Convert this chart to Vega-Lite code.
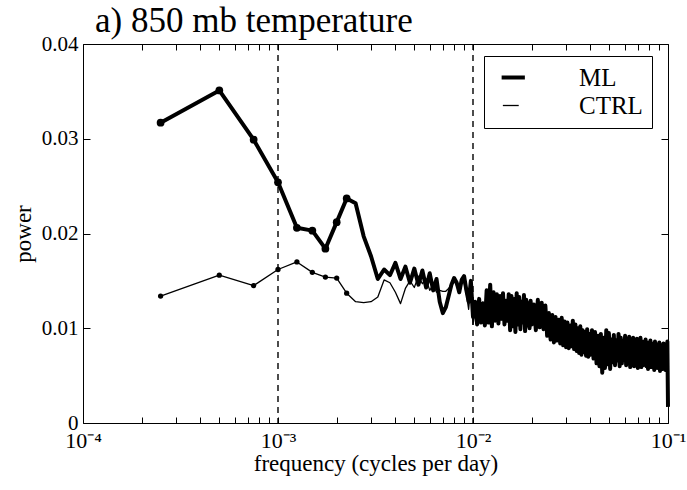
{
  "$schema": "https://vega.github.io/schema/vega-lite/v6.json",
  "width": 585,
  "height": 379,
  "autosize": {"type": "none"},
  "padding": {"left": 83, "top": 44, "right": 19, "bottom": 67},
  "background": "white",
  "config": {
    "font": "Liberation Serif",
    "view": {"stroke": "black", "strokeWidth": 1},
    "title": {"font": "Liberation Serif"},
    "legend": {"labelFont": "Liberation Serif"},
    "style": {
      "guide-label": {"font": "Liberation Serif"},
      "guide-title": {"font": "Liberation Serif"},
      "group-title": {"font": "Liberation Serif"}
    },
    "axis": {
      "grid": false,
      "domain": false,
      "tickColor": "black",
      "tickWidth": 1,
      "labelColor": "black",
      "labelFont": "Liberation Serif",
      "labelFontSize": 21,
      "titleFont": "Liberation Serif",
      "titleFontSize": 23,
      "titleFontWeight": "normal",
      "titleColor": "black",
      "labelOverlap": false,
      "labelBound": false,
      "labelFlush": false
    }
  },
  "title": {
    "text": "a) 850 mb temperature",
    "anchor": "start",
    "frame": "group",
    "fontSize": 35,
    "fontWeight": "normal",
    "font": "Liberation Serif",
    "color": "black",
    "dx": 12,
    "offset": -6
  },
  "data": {
    "values": [
      {"f": 0.00025, "ML": 0.0317, "CTRL": 0.0134},
      {"f": 0.0005, "ML": 0.0351, "CTRL": 0.0156},
      {"f": 0.00075, "ML": 0.0299, "CTRL": 0.0145},
      {"f": 0.001, "ML": 0.0254, "CTRL": 0.0162},
      {"f": 0.00125, "ML": 0.0206, "CTRL": 0.0170},
      {"f": 0.0015, "ML": 0.0203, "CTRL": 0.0159},
      {"f": 0.00175, "ML": 0.0184, "CTRL": 0.0154},
      {"f": 0.002, "ML": 0.0212, "CTRL": 0.0153},
      {"f": 0.00225, "ML": 0.0237, "CTRL": 0.0137},
      {"f": 0.0025, "ML": 0.0232, "CTRL": 0.0128},
      {"f": 0.00275, "ML": 0.0197, "CTRL": 0.0127},
      {"f": 0.003, "ML": 0.0176, "CTRL": 0.0128},
      {"f": 0.00325, "ML": 0.0152, "CTRL": 0.0133},
      {"f": 0.0035, "ML": 0.0162, "CTRL": 0.0151},
      {"f": 0.00375, "ML": 0.0156, "CTRL": 0.0148},
      {"f": 0.004, "ML": 0.0169, "CTRL": 0.0138},
      {"f": 0.00425, "ML": 0.0152, "CTRL": 0.0126},
      {"f": 0.0045, "ML": 0.0165, "CTRL": 0.0142},
      {"f": 0.00475, "ML": 0.0148, "CTRL": 0.0150},
      {"f": 0.005, "ML": 0.0163, "CTRL": 0.0143},
      {"f": 0.00525, "ML": 0.0146, "CTRL": 0.0155},
      {"f": 0.0055, "ML": 0.0161, "CTRL": 0.0147},
      {"f": 0.00575, "ML": 0.0143, "CTRL": 0.0152},
      {"f": 0.006, "ML": 0.0158, "CTRL": 0.0140},
      {"f": 0.00625, "ML": 0.0140, "CTRL": 0.0146},
      {"f": 0.0065, "ML": 0.0152, "CTRL": 0.0138},
      {"f": 0.00675, "ML": 0.0128, "CTRL": 0.0140},
      {"f": 0.007, "ML": 0.0116, "CTRL": 0.0139},
      {"f": 0.00725, "ML": 0.0122, "CTRL": 0.0139},
      {"f": 0.0075, "ML": 0.0134, "CTRL": 0.0142},
      {"f": 0.00775, "ML": 0.0146, "CTRL": 0.0147},
      {"f": 0.008, "ML": 0.0153, "CTRL": 0.0150},
      {"f": 0.00825, "ML": 0.0148, "CTRL": 0.0145},
      {"f": 0.0085, "ML": 0.0138, "CTRL": 0.0140},
      {"f": 0.00875, "ML": 0.0151, "CTRL": 0.0152},
      {"f": 0.009, "ML": 0.0155, "CTRL": 0.0148},
      {"f": 0.00925, "ML": 0.0140, "CTRL": 0.0136},
      {"f": 0.0095, "ML": 0.0128, "CTRL": 0.0120},
      {"f": 0.00975, "ML": 0.0150, "CTRL": 0.0145},
      {"f": 0.01, "ML": 0.0112, "CTRL": 0.0104},
      {"f": 0.01025, "ML": 0.0128, "CTRL": 0.0118},
      {"f": 0.0105, "ML": 0.0104, "CTRL": 0.0110},
      {"f": 0.01075, "ML": 0.0131, "CTRL": 0.0124},
      {"f": 0.011, "ML": 0.0106, "CTRL": 0.0114},
      {"f": 0.01125, "ML": 0.0126, "CTRL": 0.0128},
      {"f": 0.0115, "ML": 0.0103, "CTRL": 0.0108},
      {"f": 0.01175, "ML": 0.0140, "CTRL": 0.0126},
      {"f": 0.012, "ML": 0.0106, "CTRL": 0.0112},
      {"f": 0.01225, "ML": 0.0146, "CTRL": 0.0132},
      {"f": 0.0125, "ML": 0.0102, "CTRL": 0.0110},
      {"f": 0.01275, "ML": 0.0138, "CTRL": 0.0129},
      {"f": 0.013, "ML": 0.0108, "CTRL": 0.0115},
      {"f": 0.01325, "ML": 0.0136, "CTRL": 0.0127},
      {"f": 0.0135, "ML": 0.0105, "CTRL": 0.0112},
      {"f": 0.01375, "ML": 0.0134, "CTRL": 0.0130},
      {"f": 0.014, "ML": 0.0110, "CTRL": 0.0109},
      {"f": 0.01425, "ML": 0.0137, "CTRL": 0.0126},
      {"f": 0.0145, "ML": 0.0104, "CTRL": 0.0114},
      {"f": 0.01475, "ML": 0.0129, "CTRL": 0.0123},
      {"f": 0.015, "ML": 0.0108, "CTRL": 0.0110},
      {"f": 0.01525, "ML": 0.0136, "CTRL": 0.0125},
      {"f": 0.0155, "ML": 0.0098, "CTRL": 0.0108},
      {"f": 0.01575, "ML": 0.0134, "CTRL": 0.0122},
      {"f": 0.016, "ML": 0.0102, "CTRL": 0.0106},
      {"f": 0.01625, "ML": 0.0131, "CTRL": 0.0124},
      {"f": 0.0165, "ML": 0.0096, "CTRL": 0.0110},
      {"f": 0.01675, "ML": 0.0137, "CTRL": 0.0120},
      {"f": 0.017, "ML": 0.0104, "CTRL": 0.0105},
      {"f": 0.01725, "ML": 0.0133, "CTRL": 0.0126},
      {"f": 0.0175, "ML": 0.0099, "CTRL": 0.0108},
      {"f": 0.01775, "ML": 0.0128, "CTRL": 0.0119},
      {"f": 0.018, "ML": 0.0106, "CTRL": 0.0112},
      {"f": 0.01825, "ML": 0.0135, "CTRL": 0.0123},
      {"f": 0.0185, "ML": 0.0097, "CTRL": 0.0104},
      {"f": 0.01875, "ML": 0.0130, "CTRL": 0.0118},
      {"f": 0.019, "ML": 0.0103, "CTRL": 0.0109},
      {"f": 0.01925, "ML": 0.0126, "CTRL": 0.0120},
      {"f": 0.0195, "ML": 0.0100, "CTRL": 0.0106},
      {"f": 0.01975, "ML": 0.0129, "CTRL": 0.0117},
      {"f": 0.02, "ML": 0.0104, "CTRL": 0.0110},
      {"f": 0.0205, "ML": 0.0125, "CTRL": 0.0116},
      {"f": 0.021, "ML": 0.0098, "CTRL": 0.0105},
      {"f": 0.0215, "ML": 0.0130, "CTRL": 0.0119},
      {"f": 0.022, "ML": 0.0101, "CTRL": 0.0108},
      {"f": 0.0225, "ML": 0.0127, "CTRL": 0.0114},
      {"f": 0.023, "ML": 0.0099, "CTRL": 0.0103},
      {"f": 0.0235, "ML": 0.0124, "CTRL": 0.0115},
      {"f": 0.024, "ML": 0.0092, "CTRL": 0.0100},
      {"f": 0.0245, "ML": 0.0116, "CTRL": 0.0110},
      {"f": 0.025, "ML": 0.0088, "CTRL": 0.0098},
      {"f": 0.0255, "ML": 0.0114, "CTRL": 0.0106},
      {"f": 0.026, "ML": 0.0085, "CTRL": 0.0094},
      {"f": 0.0265, "ML": 0.0112, "CTRL": 0.0104},
      {"f": 0.027, "ML": 0.0087, "CTRL": 0.0092},
      {"f": 0.0275, "ML": 0.0109, "CTRL": 0.0101},
      {"f": 0.028, "ML": 0.0084, "CTRL": 0.0090},
      {"f": 0.0285, "ML": 0.0111, "CTRL": 0.0100},
      {"f": 0.029, "ML": 0.0082, "CTRL": 0.0091},
      {"f": 0.0295, "ML": 0.0107, "CTRL": 0.0097},
      {"f": 0.03, "ML": 0.0080, "CTRL": 0.0088},
      {"f": 0.0305, "ML": 0.0106, "CTRL": 0.0096},
      {"f": 0.031, "ML": 0.0079, "CTRL": 0.0089},
      {"f": 0.0315, "ML": 0.0103, "CTRL": 0.0095},
      {"f": 0.032, "ML": 0.0081, "CTRL": 0.0087},
      {"f": 0.0325, "ML": 0.0108, "CTRL": 0.0098},
      {"f": 0.033, "ML": 0.0078, "CTRL": 0.0086},
      {"f": 0.0335, "ML": 0.0104, "CTRL": 0.0094},
      {"f": 0.034, "ML": 0.0076, "CTRL": 0.0085},
      {"f": 0.0345, "ML": 0.0100, "CTRL": 0.0092},
      {"f": 0.035, "ML": 0.0074, "CTRL": 0.0083},
      {"f": 0.0355, "ML": 0.0102, "CTRL": 0.0090},
      {"f": 0.036, "ML": 0.0072, "CTRL": 0.0082},
      {"f": 0.0365, "ML": 0.0098, "CTRL": 0.0088},
      {"f": 0.037, "ML": 0.0075, "CTRL": 0.0080},
      {"f": 0.0375, "ML": 0.0096, "CTRL": 0.0087},
      {"f": 0.038, "ML": 0.0071, "CTRL": 0.0079},
      {"f": 0.0385, "ML": 0.0099, "CTRL": 0.0086},
      {"f": 0.039, "ML": 0.0070, "CTRL": 0.0078},
      {"f": 0.0395, "ML": 0.0094, "CTRL": 0.0084},
      {"f": 0.04, "ML": 0.0072, "CTRL": 0.0080},
      {"f": 0.04075, "ML": 0.0098, "CTRL": 0.0084},
      {"f": 0.0415, "ML": 0.0068, "CTRL": 0.0076},
      {"f": 0.04225, "ML": 0.0096, "CTRL": 0.0086},
      {"f": 0.043, "ML": 0.0063, "CTRL": 0.0072},
      {"f": 0.04375, "ML": 0.0092, "CTRL": 0.0082},
      {"f": 0.0445, "ML": 0.0060, "CTRL": 0.0070},
      {"f": 0.04525, "ML": 0.0094, "CTRL": 0.0080},
      {"f": 0.046, "ML": 0.0053, "CTRL": 0.0066},
      {"f": 0.04675, "ML": 0.0090, "CTRL": 0.0079},
      {"f": 0.0475, "ML": 0.0058, "CTRL": 0.0068},
      {"f": 0.04825, "ML": 0.0098, "CTRL": 0.0083},
      {"f": 0.049, "ML": 0.0062, "CTRL": 0.0071},
      {"f": 0.04975, "ML": 0.0095, "CTRL": 0.0081},
      {"f": 0.0505, "ML": 0.0057, "CTRL": 0.0067},
      {"f": 0.05125, "ML": 0.0088, "CTRL": 0.0078},
      {"f": 0.052, "ML": 0.0064, "CTRL": 0.0072},
      {"f": 0.05275, "ML": 0.0093, "CTRL": 0.0080},
      {"f": 0.0535, "ML": 0.0061, "CTRL": 0.0069},
      {"f": 0.05425, "ML": 0.0087, "CTRL": 0.0077},
      {"f": 0.055, "ML": 0.0066, "CTRL": 0.0073},
      {"f": 0.05575, "ML": 0.0094, "CTRL": 0.0081},
      {"f": 0.0565, "ML": 0.0060, "CTRL": 0.0068},
      {"f": 0.05725, "ML": 0.0090, "CTRL": 0.0078},
      {"f": 0.058, "ML": 0.0063, "CTRL": 0.0071},
      {"f": 0.05875, "ML": 0.0086, "CTRL": 0.0076},
      {"f": 0.0595, "ML": 0.0067, "CTRL": 0.0072},
      {"f": 0.06025, "ML": 0.0092, "CTRL": 0.0079},
      {"f": 0.061, "ML": 0.0061, "CTRL": 0.0068},
      {"f": 0.06175, "ML": 0.0089, "CTRL": 0.0077},
      {"f": 0.0625, "ML": 0.0064, "CTRL": 0.0070},
      {"f": 0.06325, "ML": 0.0091, "CTRL": 0.0078},
      {"f": 0.064, "ML": 0.0059, "CTRL": 0.0067},
      {"f": 0.06475, "ML": 0.0085, "CTRL": 0.0075},
      {"f": 0.0655, "ML": 0.0065, "CTRL": 0.0071},
      {"f": 0.06625, "ML": 0.0090, "CTRL": 0.0077},
      {"f": 0.067, "ML": 0.0060, "CTRL": 0.0067},
      {"f": 0.06775, "ML": 0.0087, "CTRL": 0.0075},
      {"f": 0.0685, "ML": 0.0062, "CTRL": 0.0069},
      {"f": 0.06925, "ML": 0.0089, "CTRL": 0.0076},
      {"f": 0.07, "ML": 0.0058, "CTRL": 0.0066},
      {"f": 0.07075, "ML": 0.0084, "CTRL": 0.0073},
      {"f": 0.0715, "ML": 0.0064, "CTRL": 0.0070},
      {"f": 0.07225, "ML": 0.0090, "CTRL": 0.0077},
      {"f": 0.073, "ML": 0.0059, "CTRL": 0.0066},
      {"f": 0.07375, "ML": 0.0086, "CTRL": 0.0074},
      {"f": 0.0745, "ML": 0.0061, "CTRL": 0.0068},
      {"f": 0.07525, "ML": 0.0083, "CTRL": 0.0072},
      {"f": 0.076, "ML": 0.0066, "CTRL": 0.0071},
      {"f": 0.07675, "ML": 0.0088, "CTRL": 0.0075},
      {"f": 0.0775, "ML": 0.0060, "CTRL": 0.0066},
      {"f": 0.07825, "ML": 0.0085, "CTRL": 0.0073},
      {"f": 0.079, "ML": 0.0057, "CTRL": 0.0065},
      {"f": 0.07975, "ML": 0.0082, "CTRL": 0.0071},
      {"f": 0.0805, "ML": 0.0063, "CTRL": 0.0069},
      {"f": 0.08125, "ML": 0.0087, "CTRL": 0.0074},
      {"f": 0.082, "ML": 0.0059, "CTRL": 0.0065},
      {"f": 0.08275, "ML": 0.0084, "CTRL": 0.0072},
      {"f": 0.0835, "ML": 0.0061, "CTRL": 0.0067},
      {"f": 0.08425, "ML": 0.0081, "CTRL": 0.0070},
      {"f": 0.085, "ML": 0.0056, "CTRL": 0.0064},
      {"f": 0.08575, "ML": 0.0086, "CTRL": 0.0073},
      {"f": 0.0865, "ML": 0.0062, "CTRL": 0.0068},
      {"f": 0.08725, "ML": 0.0080, "CTRL": 0.0069},
      {"f": 0.088, "ML": 0.0058, "CTRL": 0.0065},
      {"f": 0.08875, "ML": 0.0083, "CTRL": 0.0071},
      {"f": 0.0895, "ML": 0.0060, "CTRL": 0.0066},
      {"f": 0.09025, "ML": 0.0085, "CTRL": 0.0072},
      {"f": 0.091, "ML": 0.0055, "CTRL": 0.0063},
      {"f": 0.09175, "ML": 0.0079, "CTRL": 0.0068},
      {"f": 0.0925, "ML": 0.0061, "CTRL": 0.0067},
      {"f": 0.09325, "ML": 0.0082, "CTRL": 0.0070},
      {"f": 0.094, "ML": 0.0057, "CTRL": 0.0064},
      {"f": 0.09475, "ML": 0.0084, "CTRL": 0.0071},
      {"f": 0.0955, "ML": 0.0059, "CTRL": 0.0066},
      {"f": 0.09625, "ML": 0.0078, "CTRL": 0.0068},
      {"f": 0.097, "ML": 0.0056, "CTRL": 0.0063},
      {"f": 0.09775, "ML": 0.0083, "CTRL": 0.0070},
      {"f": 0.0985, "ML": 0.0060, "CTRL": 0.0066},
      {"f": 0.09925, "ML": 0.0086, "CTRL": 0.0072},
      {"f": 0.1, "ML": 0.0017, "CTRL": 0.0030}
    ]
  },
  "layer": [
    {
      "transform": [{"fold": ["ML", "CTRL"], "as": ["series", "power"]}],
      "mark": {"type": "line", "color": "black", "strokeJoin": "round"},
      "encoding": {
        "x": {
          "field": "f",
          "type": "quantitative",
          "scale": {"type": "log", "domain": [0.0001, 0.1]},
          "axis": {
            "orient": "bottom",
            "values": [0.0001, 0.0002, 0.0003, 0.0004, 0.0005, 0.0006, 0.0007, 0.0008, 0.0009, 0.001, 0.002, 0.003, 0.004, 0.005, 0.006, 0.007, 0.008, 0.009, 0.01, 0.02, 0.03, 0.04, 0.05, 0.06, 0.07, 0.08, 0.09, 0.1],
            "labelExpr": "datum.value == 0.0001 ? '10⁻⁴' : datum.value == 0.001 ? '10⁻³' : datum.value == 0.01 ? '10⁻²' : datum.value == 0.1 ? '10⁻¹' : ''",
            "labelFont": "Liberation Serif",
            "labelFontSize": 22,
            "tickSize": -6,
            "labelPadding": 13,
            "title": "frequency (cycles per day)",
            "titleFont": "Liberation Serif",
            "titlePadding": 1
          }
        },
        "y": {
          "field": "power",
          "type": "quantitative",
          "scale": {"domain": [0, 0.04]},
          "axis": {
            "orient": "left",
            "values": [0, 0.01, 0.02, 0.03, 0.04],
            "labelExpr": "datum.value == 0 ? '0' : format(datum.value, '.2f')",
            "labelFont": "Liberation Serif",
            "tickSize": -7,
            "labelPadding": 12,
            "title": "power",
            "titleFont": "Liberation Serif",
            "titlePadding": 6
          }
        },
        "strokeWidth": {
          "field": "series",
          "type": "ordinal",
          "scale": {"domain": ["ML", "CTRL"], "range": [4, 1.3]},
          "legend": {
            "title": null,
            "orient": "none",
            "legendX": 401,
            "legendY": 12,
            "symbolType": "M-1,0H5",
            "symbolSize": 499,
            "symbolStrokeColor": "black",
            "symbolFillColor": "transparent",
            "labelFont": "Liberation Serif",
            "labelFontSize": 25,
            "labelColor": "black",
            "labelOffset": 61,
            "padding": 9,
            "rowPadding": 2,
            "strokeColor": "black",
            "fillColor": "white"
          }
        }
      }
    },
    {
      "transform": [
        {"fold": ["ML", "CTRL"], "as": ["series", "power"]},
        {"filter": "datum.f <= 0.00226"}
      ],
      "mark": {"type": "point", "filled": true, "color": "black", "opacity": 1, "shape": "circle"},
      "encoding": {
        "x": {"field": "f", "type": "quantitative", "axis": null},
        "y": {
          "field": "power",
          "type": "quantitative",
          "axis": {
            "orient": "right",
            "values": [0, 0.01, 0.02, 0.03, 0.04],
            "labels": false,
            "tickSize": -7,
            "title": null
          }
        },
        "size": {
          "field": "series",
          "type": "nominal",
          "scale": {"domain": ["ML", "CTRL"], "range": [60, 28]},
          "legend": null
        }
      }
    },
    {
      "data": {"values": [{"f": 0.001}, {"f": 0.01}]},
      "mark": {"type": "rule", "color": "black", "strokeWidth": 1.4, "strokeDash": [6, 5]},
      "encoding": {
        "x": {
          "field": "f",
          "type": "quantitative",
          "axis": {
            "orient": "top",
            "values": [0.0001, 0.0002, 0.0003, 0.0004, 0.0005, 0.0006, 0.0007, 0.0008, 0.0009, 0.001, 0.002, 0.003, 0.004, 0.005, 0.006, 0.007, 0.008, 0.009, 0.01, 0.02, 0.03, 0.04, 0.05, 0.06, 0.07, 0.08, 0.09, 0.1],
            "labels": false,
            "tickSize": -6,
            "title": null
          }
        }
      }
    }
  ],
  "resolve": {"axis": {"x": "independent", "y": "independent"}}
}
